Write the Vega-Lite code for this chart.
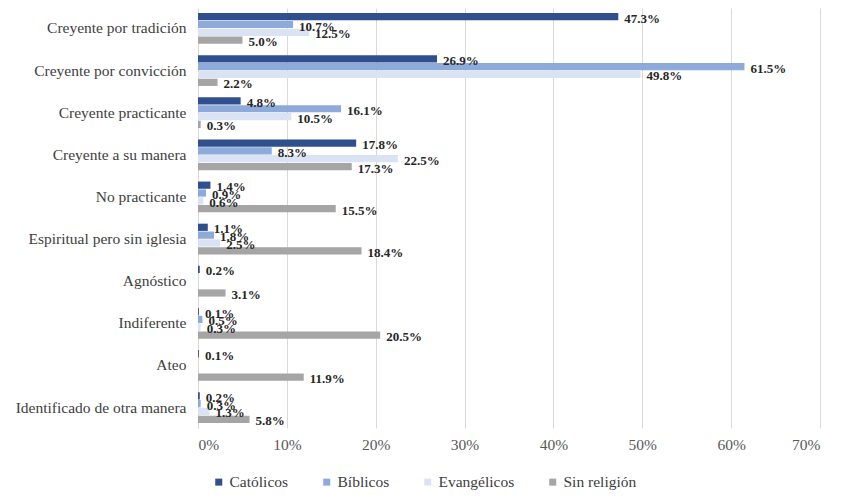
{
  "$schema": "https://vega.github.io/schema/vega-lite/v6.json",
  "autosize": {"type": "none"},
  "width": 622,
  "height": 420,
  "padding": {"left": 198, "top": 8, "right": 30, "bottom": 75},
  "background": "white",
  "config": {
    "view": {"stroke": null},
    "font": "Liberation Serif"
  },
  "data": {
    "values": [
      {"cat": "Creyente por tradición", "serie": "Católicos", "v": 0.473},
      {"cat": "Creyente por tradición", "serie": "Bíblicos", "v": 0.107},
      {"cat": "Creyente por tradición", "serie": "Evangélicos", "v": 0.125},
      {"cat": "Creyente por tradición", "serie": "Sin religión", "v": 0.050},
      {"cat": "Creyente por convicción", "serie": "Católicos", "v": 0.269},
      {"cat": "Creyente por convicción", "serie": "Bíblicos", "v": 0.615},
      {"cat": "Creyente por convicción", "serie": "Evangélicos", "v": 0.498},
      {"cat": "Creyente por convicción", "serie": "Sin religión", "v": 0.022},
      {"cat": "Creyente practicante", "serie": "Católicos", "v": 0.048},
      {"cat": "Creyente practicante", "serie": "Bíblicos", "v": 0.161},
      {"cat": "Creyente practicante", "serie": "Evangélicos", "v": 0.105},
      {"cat": "Creyente practicante", "serie": "Sin religión", "v": 0.003},
      {"cat": "Creyente a su manera", "serie": "Católicos", "v": 0.178},
      {"cat": "Creyente a su manera", "serie": "Bíblicos", "v": 0.083},
      {"cat": "Creyente a su manera", "serie": "Evangélicos", "v": 0.225},
      {"cat": "Creyente a su manera", "serie": "Sin religión", "v": 0.173},
      {"cat": "No practicante", "serie": "Católicos", "v": 0.014},
      {"cat": "No practicante", "serie": "Bíblicos", "v": 0.009},
      {"cat": "No practicante", "serie": "Evangélicos", "v": 0.006},
      {"cat": "No practicante", "serie": "Sin religión", "v": 0.155},
      {"cat": "Espiritual pero sin iglesia", "serie": "Católicos", "v": 0.011},
      {"cat": "Espiritual pero sin iglesia", "serie": "Bíblicos", "v": 0.018},
      {"cat": "Espiritual pero sin iglesia", "serie": "Evangélicos", "v": 0.025},
      {"cat": "Espiritual pero sin iglesia", "serie": "Sin religión", "v": 0.184},
      {"cat": "Agnóstico", "serie": "Católicos", "v": 0.002},
      {"cat": "Agnóstico", "serie": "Sin religión", "v": 0.031},
      {"cat": "Indiferente", "serie": "Católicos", "v": 0.001},
      {"cat": "Indiferente", "serie": "Bíblicos", "v": 0.005},
      {"cat": "Indiferente", "serie": "Evangélicos", "v": 0.003},
      {"cat": "Indiferente", "serie": "Sin religión", "v": 0.205},
      {"cat": "Ateo", "serie": "Católicos", "v": 0.001},
      {"cat": "Ateo", "serie": "Sin religión", "v": 0.119},
      {"cat": "Identificado de otra manera", "serie": "Católicos", "v": 0.002},
      {"cat": "Identificado de otra manera", "serie": "Bíblicos", "v": 0.003},
      {"cat": "Identificado de otra manera", "serie": "Evangélicos", "v": 0.013},
      {"cat": "Identificado de otra manera", "serie": "Sin religión", "v": 0.058}
    ]
  },
  "encoding": {
    "y": {
      "field": "cat", "type": "nominal", "sort": null,
      "scale": {"paddingInner": 0.27, "paddingOuter": 0.12},
      "axis": {
        "title": null, "ticks": false, "labelPadding": 12,
        "labelFont": "Liberation Serif", "labelFontSize": 15.5, "labelColor": "#404040",
        "domainColor": "#d9d9d9", "labelLimit": 220
      }
    },
    "yOffset": {
      "field": "serie", "type": "nominal",
      "sort": ["Católicos", "Bíblicos", "Evangélicos", "Sin religión"],
      "scale": {"domain": ["Católicos", "Bíblicos", "Evangélicos", "Sin religión"], "paddingInner": 0.08}
    },
    "x": {
      "field": "v", "type": "quantitative",
      "scale": {"domain": [0, 0.7], "nice": false},
      "axis": {
        "title": null, "format": ".0%", "values": [0, 0.1, 0.2, 0.3, 0.4, 0.5, 0.6, 0.7],
        "labelOverlap": false,
        "domain": false, "ticks": false, "labelPadding": 9,
        "gridColor": "#d9d9d9", "labelFont": "Liberation Serif", "labelFontSize": 15.5, "labelColor": "#595959"
      }
    }
  },
  "layer": [
    {
      "mark": {"type": "bar"},
      "encoding": {
        "color": {
          "field": "serie", "type": "nominal",
          "scale": {
            "domain": ["Católicos", "Bíblicos", "Evangélicos", "Sin religión"],
            "range": ["#2f4f8f", "#8eaadb", "#dae3f3", "#a5a5a5"]
          },
          "legend": {
            "title": null, "orient": "none", "direction": "horizontal",
            "legendX": 13, "legendY": 466,
            "symbolType": "square", "symbolSize": 49, "symbolStrokeWidth": 0,
            "labelFont": "Liberation Serif", "labelFontSize": 15.5, "labelColor": "#404040",
            "columnPadding": 30, "labelOffset": 3
          }
        }
      }
    },
    {
      "mark": {
        "type": "text", "align": "left", "baseline": "middle", "dx": 6, "dy": 2,
        "font": "Liberation Serif", "fontSize": 13, "fontWeight": "bold", "color": "#262626"
      },
      "encoding": {
        "text": {"field": "v", "type": "quantitative", "format": ".1%"}
      }
    }
  ]
}
